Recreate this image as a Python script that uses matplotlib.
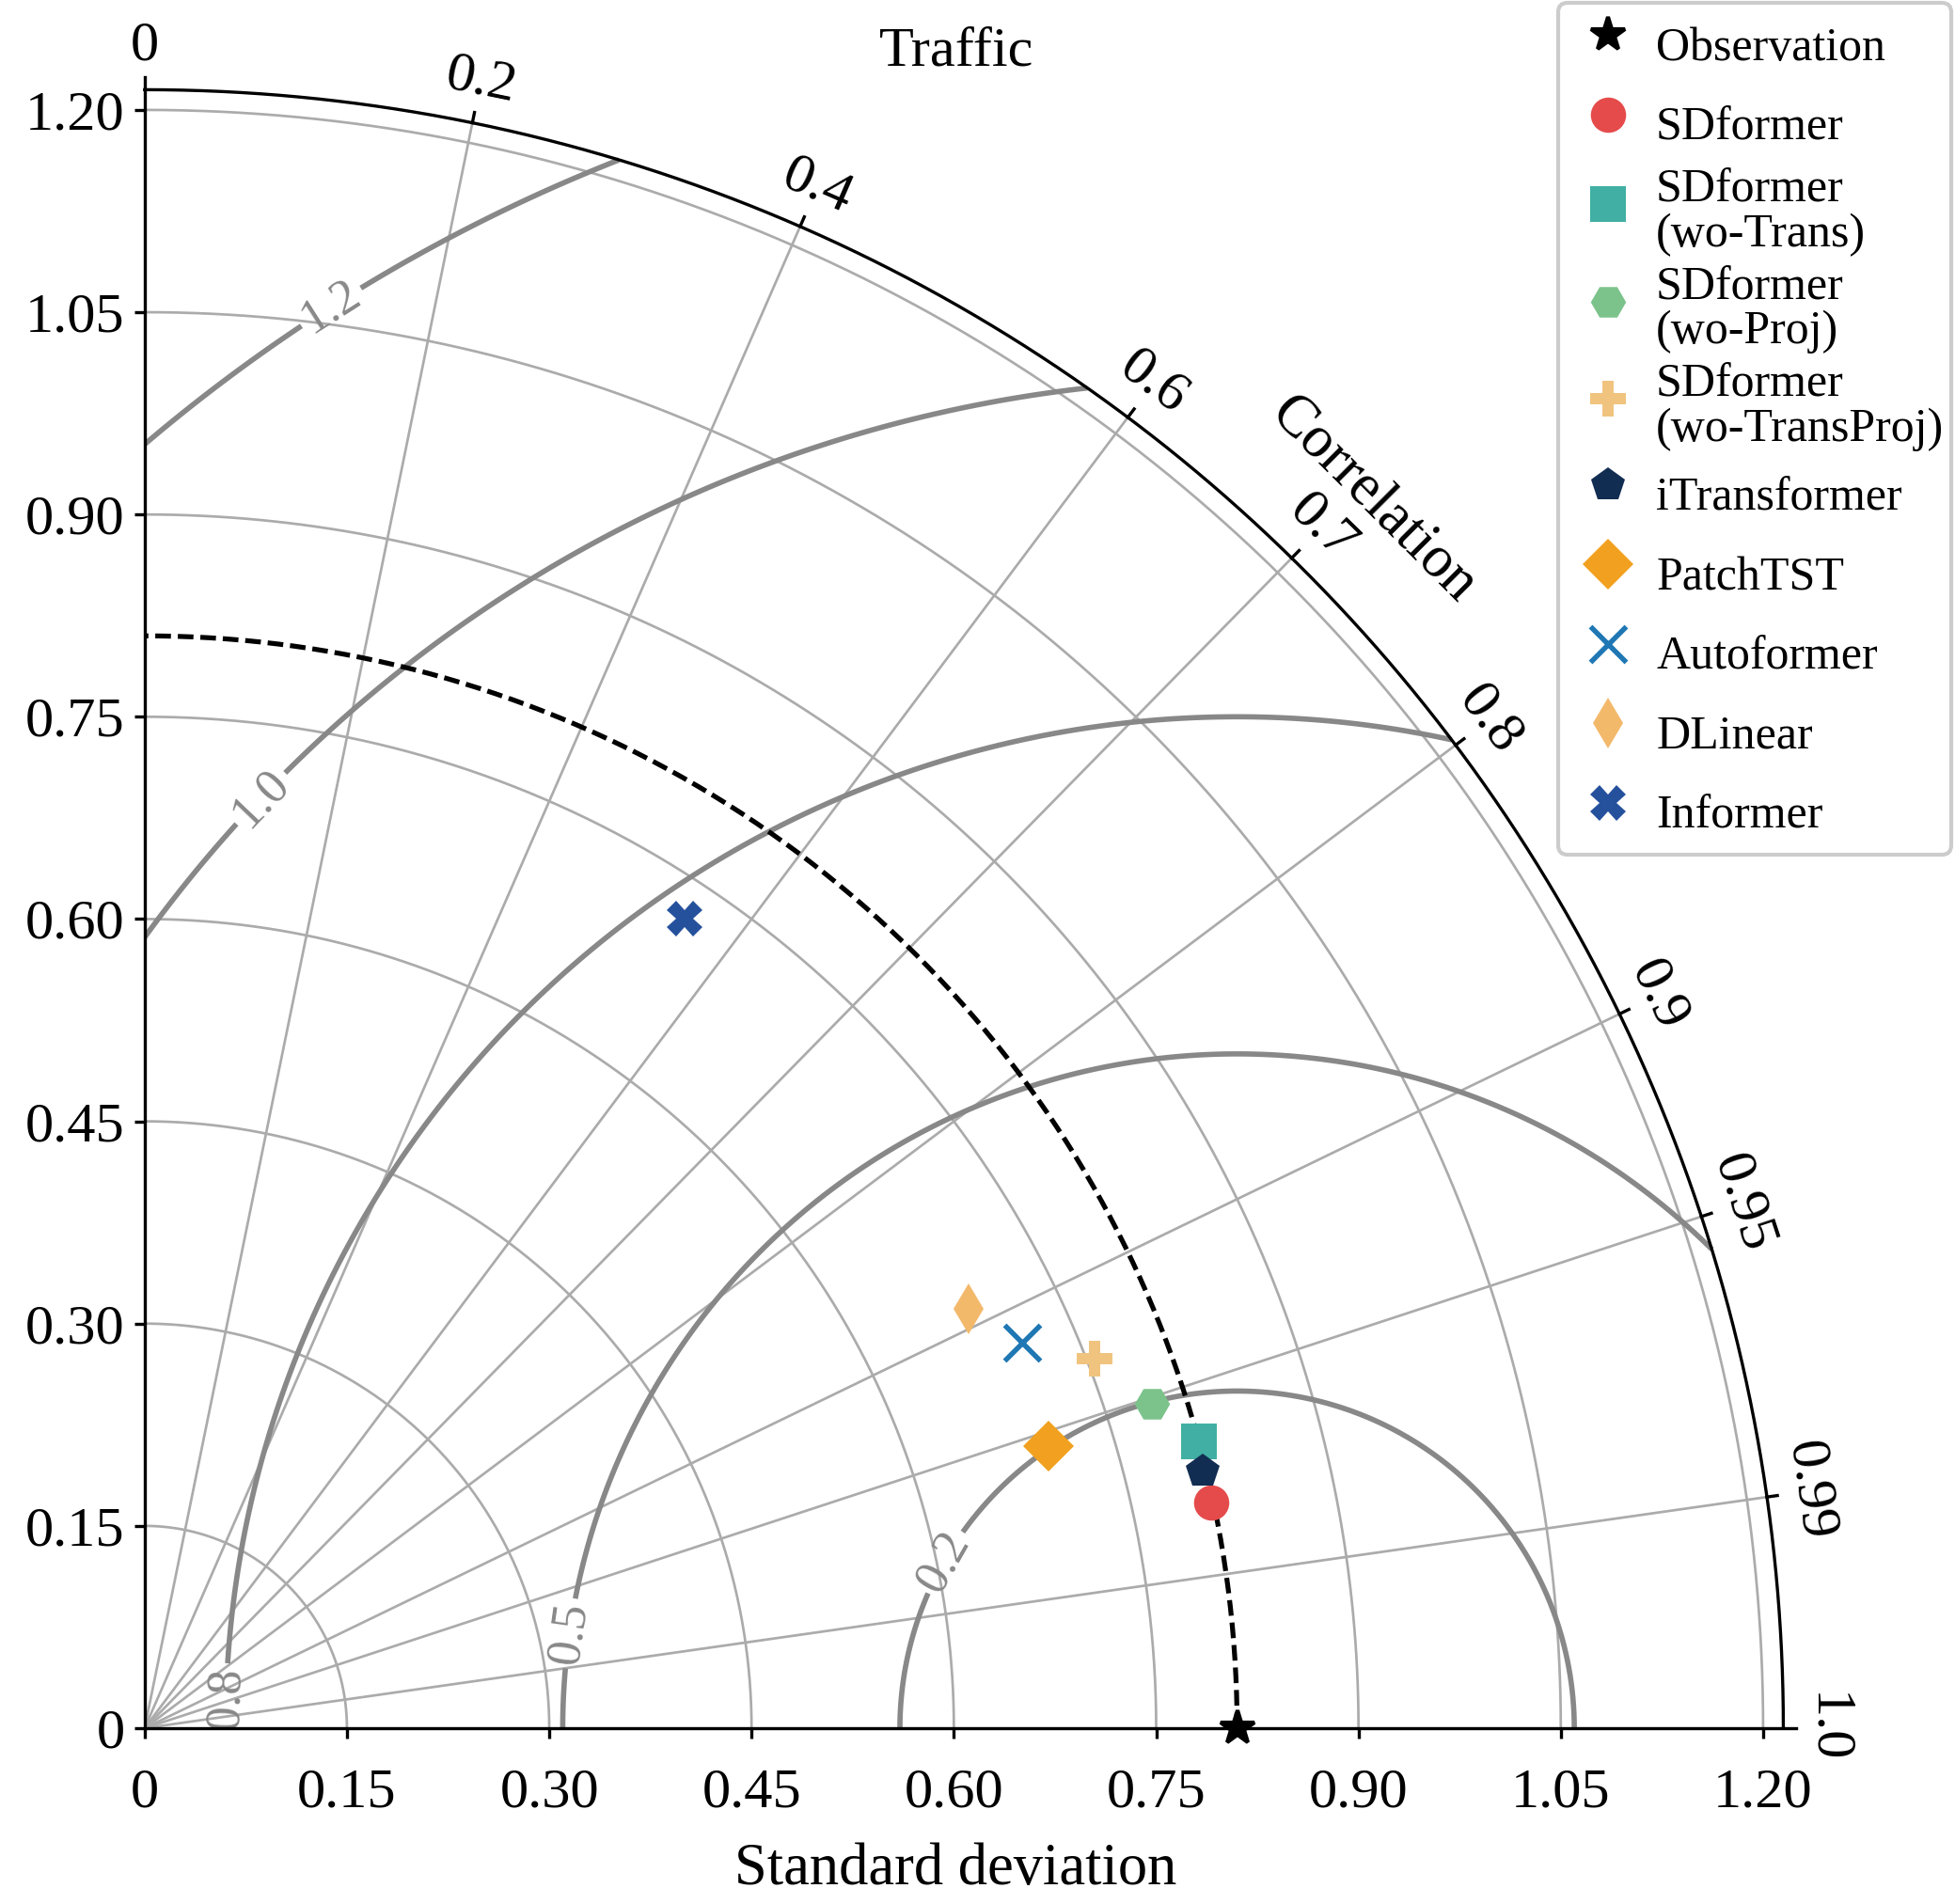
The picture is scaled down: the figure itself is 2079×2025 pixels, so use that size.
import numpy as np
import matplotlib
matplotlib.use("Agg")
import matplotlib.pyplot as plt

# ---------------- data ----------------
ref_std = 0.81
model_names = ["SDformer", "SDformer\n(wo-Trans)", "SDformer\n(wo-Proj)",
               "SDformer\n(wo-TransProj)", "iTransformer", "PatchTST",
               "Autoformer", "DLinear", "Informer"]
model_std = [0.8085, 0.8105, 0.7847, 0.7557, 0.8074, 0.7023, 0.7103, 0.6856, 0.7213]
model_corr = [0.9784, 0.9649, 0.9520, 0.9320, 0.9718, 0.9545, 0.9156, 0.8912, 0.555]

corr_ticks = [0, 0.2, 0.4, 0.6, 0.7, 0.8, 0.9, 0.95, 0.99, 1.0]
corr_tick_labels = ["0", "0.2", "0.4", "0.6", "0.7", "0.8", "0.9", "0.95", "0.99", "1.0"]
std_ticks = [0, 0.15, 0.30, 0.45, 0.60, 0.75, 0.90, 1.05, 1.20]
std_tick_labels = ["0", "0.15", "0.30", "0.45", "0.60", "0.75", "0.90", "1.05", "1.20"]
rms_levels = [0.25, 0.5, 0.75, 1.0, 1.25]
rms_label_pos = [(0.135, 1.059), (0.084, 0.6915), (0.059, 0.022), (0.317, 0.070), (0.588, 0.126)]

# ---------------- styles ----------------
colors = ["#E54B4B", "#41AFA3", "#7CC38B", "#F0C47F", "#122D52",
          "#F1A11F", "#1F77B4", "#F3B96B", "#25519C"]
markers = ["o", "s", "H", "P", "p", "D", "x", "d", "X"]

plt.rcParams["font.family"] = ["Liberation Serif", "DejaVu Serif"]
FS = 14.5

fig = plt.figure(figsize=(6.93, 6.75), dpi=300)
smax = 1.5 * ref_std
lim = smax + 0.0094
ax = fig.add_axes([0.07398, 0.09235, 0.8447, 0.8672])
ax.set_xlim(0, lim)
ax.set_ylim(0, lim)

grid_c = "#ababab"
theta = np.linspace(0, np.pi / 2, 400)

# std grid arcs
for s in std_ticks[1:]:
    ax.plot(s * np.cos(theta), s * np.sin(theta), color=grid_c, lw=0.65, zorder=1)
# correlation radial lines
for c in corr_ticks[1:-1]:
    a = np.arccos(c)
    ax.plot([0, smax * np.cos(a)], [0, smax * np.sin(a)], color=grid_c, lw=0.65, zorder=1)

# outer arc
ax.plot(smax * np.cos(theta), smax * np.sin(theta), color="k", lw=0.8, zorder=4, clip_on=False)

# correlation ticks and labels
tl = 0.0078
for c, lab in zip(corr_ticks, corr_tick_labels):
    a = np.arccos(c)
    if 0 < c < 1:
        ax.plot([smax * np.cos(a), (smax + tl) * np.cos(a)],
                [smax * np.sin(a), (smax + tl) * np.sin(a)],
                color="k", lw=0.8, clip_on=False, zorder=4)
    r = smax + 0.013
    ax.text(r * np.cos(a), r * np.sin(a), lab, rotation=np.degrees(a) - 90,
            rotation_mode="anchor", ha="center", va="bottom", fontsize=FS)

rc = smax + 0.073
ax.text(rc * np.cos(np.pi / 4), rc * np.sin(np.pi / 4), "Correlation",
        rotation=-45, ha="center", va="center", fontsize=FS + 0.5)

# RMS contours
rr, tt = np.meshgrid(np.linspace(0, smax, 300), np.linspace(0, np.pi / 2, 300))
X = rr * np.cos(tt)
Y = rr * np.sin(tt)
rms = np.sqrt(ref_std ** 2 + rr ** 2 - 2 * ref_std * rr * np.cos(tt))
cs = ax.contour(X, Y, rms, levels=rms_levels, colors="#888888", linewidths=1.35, zorder=2)
ax.clabel(cs, inline=True, fmt="%.1f", fontsize=12.5, manual=rms_label_pos)

# reference std arc
ax.plot(ref_std * np.cos(theta), ref_std * np.sin(theta), color="k",
        ls=(0, (3.2, 1.4)), lw=1.25, zorder=3)

# observation
ax.plot([ref_std], [0], ls="", marker="*", color="k", ms=9, clip_on=False,
        zorder=7, label="Observation")

# models
for name, s, c, col, m in zip(model_names, model_std, model_corr, colors, markers):
    a = np.arccos(c)
    kw = dict(mew=1.3) if m == "x" else dict(mew=0)
    ax.plot([s * np.cos(a)], [s * np.sin(a)], ls="", marker=m, color=col, ms=9,
            zorder=6, label=name, **kw)

# axes styling
for sp in ["top", "right"]:
    ax.spines[sp].set_visible(False)
for sp in ["left", "bottom"]:
    ax.spines[sp].set_linewidth(0.8)
    ax.spines[sp].set_zorder(5)
ax.set_xticks(std_ticks)
ax.set_xticklabels(std_tick_labels, fontsize=FS)
ax.set_yticks(std_ticks)
ax.set_yticklabels(std_tick_labels, fontsize=FS)
ax.tick_params(axis="both", direction="out", length=2.7, width=0.8)
ax.tick_params(axis="x", pad=7.4)
ax.tick_params(axis="y", pad=2.4)

fig.text(0.4887, 0.0106, "Standard deviation", ha="center", va="baseline", fontsize=15)
fig.text(0.4894, 0.9659, "Traffic", ha="center", va="baseline", fontsize=FS)

leg = fig.legend(loc="upper right", bbox_to_anchor=(0.998, 0.9985),
                 bbox_transform=fig.transFigure, borderaxespad=0,
                 fontsize=12, frameon=True, fancybox=True, edgecolor="#cccccc",
                 framealpha=1, handlelength=1.84, handleheight=1.93,
                 handletextpad=0.1, labelspacing=0.19, borderpad=0.15)
leg.get_frame().set_linewidth(1.0)
for t in leg.get_texts():
    t.set_linespacing(1.02)

fig.savefig("out.png", dpi=300)
